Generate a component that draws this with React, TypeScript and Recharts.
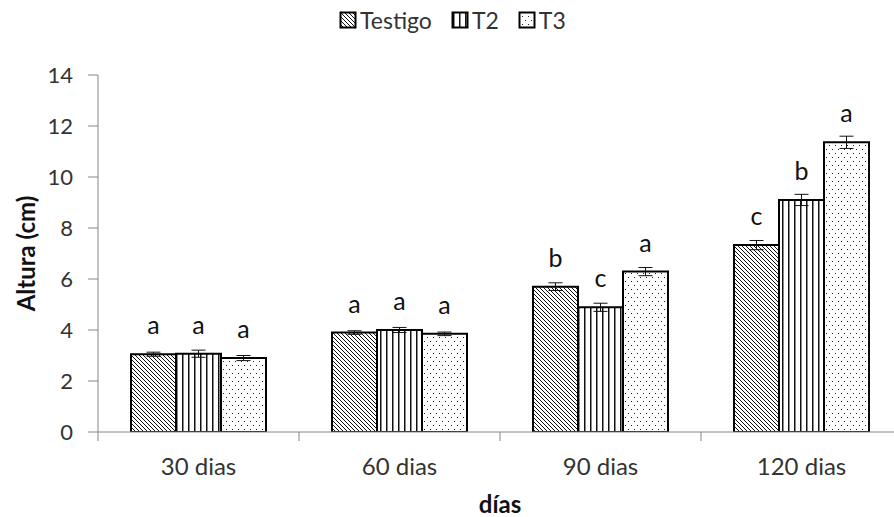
import * as React from "react";
import {Bar, BarChart, ErrorBar, Label, LabelList, Legend, XAxis, YAxis} from "recharts";

const categories = ["30 dias", "60 dias", "90 dias", "120 dias"];
const testigo = [3.05, 3.9, 5.7, 7.33];
const t2 = [3.07, 4.0, 4.89, 9.1];
const t3 = [2.9, 3.85, 6.29, 11.36];
const testigoErr = [0.08, 0.07, 0.15, 0.18];
const t2Err = [0.14, 0.1, 0.16, 0.22];
const t3Err = [0.1, 0.07, 0.16, 0.24];
const testigoLetters = ["a", "a", "b", "c"];
const t2Letters = ["a", "a", "c", "b"];
const t3Letters = ["a", "a", "a", "a"];
const yTicks = [0, 2, 4, 6, 8, 10, 12, 14];

const data = categories.map((c, i) => ({
    name: c,
    testigo: testigo[i], t2: t2[i], t3: t3[i],
    testigoErr: testigoErr[i], t2Err: t2Err[i], t3Err: t3Err[i],
    testigoL: testigoLetters[i], t2L: t2Letters[i], t3L: t3Letters[i],
}));

const FONT = "Lato, 'Open Sans', sans-serif";
const AXIS = "#868686";
const TEXT = "#333";

const series = [
    {key: "testigo", name: "Testigo", pat: "url(#pTestigo)"},
    {key: "t2", name: "T2", pat: "url(#pT2)"},
    {key: "t3", name: "T3", pat: "url(#pT3)"},
];

function Patterns() {
    return (
        <svg width={0} height={0} style={{position: "absolute"}}>
            <defs>
                <pattern id="pTestigo" patternUnits="userSpaceOnUse" width={4} height={4}>
                    <rect width={4} height={4} fill="#fff"/>
                    <path d="M0,0 L4,4 M-1,3 L1,5 M3,-1 L5,1" stroke="#111" strokeWidth={1}/>
                </pattern>
                <pattern id="pT2" patternUnits="userSpaceOnUse" width={6} height={6}>
                    <rect width={6} height={6} fill="#fff"/>
                    <rect x={2} width={1.5} height={6} fill="#111"/>
                </pattern>
                <pattern id="pT3" patternUnits="userSpaceOnUse" width={6} height={8}>
                    <rect width={6} height={8} fill="#fff"/>
                    <rect x={1} y={1} width={1} height={1} fill="#222"/>
                    <rect x={4} y={5} width={1} height={1} fill="#222"/>
                </pattern>
            </defs>
        </svg>
    );
}

function renderLegend() {
    return (
        <div style={{display: "flex", alignItems: "center", fontFamily: FONT, fontSize: 23, color: TEXT}}>
            {series.map(s => (
                <div key={s.key} style={{display: "flex", alignItems: "center", marginRight: 19}}>
                    <svg width={18} height={18} style={{marginRight: 3}}>
                        <rect x={1.5} y={1.5} width={15} height={15} fill={s.pat} stroke="#000" strokeWidth={2}/>
                    </svg>
                    <span>{s.name}</span>
                </div>
            ))}
        </div>
    );
}

function XTick(props: any) {
    const {x, y, payload} = props;
    const band = props.width && props.visibleTicksCount ? props.width / props.visibleTicksCount : 201;
    const bx = x - band / 2;
    return (
        <g>
            <line x1={bx} x2={bx} y1={y} y2={y + 9} stroke={AXIS}/>
            <text x={x} y={y + 43} textAnchor="middle" fill={TEXT} fontSize={24} fontFamily={FONT}>
                {payload.value}
            </text>
        </g>
    );
}

export default function App() {
    return (
        <div style={{position: "absolute", left: 0, top: 0, width: 894, height: 517, overflow: "hidden", background: "#fff"}}>
            <Patterns/>
            <BarChart width={910} height={517} data={data} margin={{top: 75, right: 8, bottom: 0, left: 0}}
                      barCategoryGap={33} barGap={0}>
                <XAxis dataKey="name" height={85} stroke={AXIS} tickSize={0} tickMargin={0} tick={<XTick/>}
                       interval={0}>
                    <Label value="días" position="insideBottom" offset={4} fill="#111" fontSize={24}
                           fontWeight="bold" fontFamily={FONT}/>
                </XAxis>
                <YAxis width={98} domain={[0, 14]} ticks={yTicks} stroke={AXIS} tickSize={10} tickMargin={15}
                       tick={{fill: TEXT, fontSize: 22, fontFamily: FONT}} allowDataOverflow>
                    <Label content={({viewBox}: any) => {
                        const cy = viewBox.y + viewBox.height / 2;
                        return (
                            <text x={25} y={cy} transform={`rotate(-90 25 ${cy})`} textAnchor="middle"
                                  dominantBaseline="central" fill="#111" fontSize={24} fontWeight="bold"
                                  fontFamily={FONT}>Altura (cm)</text>
                        );
                    }}/>
                </YAxis>
                <Legend content={renderLegend} layout="horizontal" verticalAlign="middle" align="center"
                        wrapperStyle={{top: 6, left: 339, width: 300}}/>
                {series.map(s => (
                    <Bar key={s.key} dataKey={s.key} name={s.name} fill={s.pat} stroke="#000" strokeWidth={2}
                         isAnimationActive={false}>
                        <ErrorBar dataKey={s.key + "Err"} width={7} stroke="#111" strokeWidth={1} direction="y"/>
                        <LabelList dataKey={s.key + "L"} position="top" offset={20} fill="#111" fontSize={25}
                                   fontFamily={FONT}/>
                    </Bar>
                ))}
            </BarChart>
        </div>
    );
}
